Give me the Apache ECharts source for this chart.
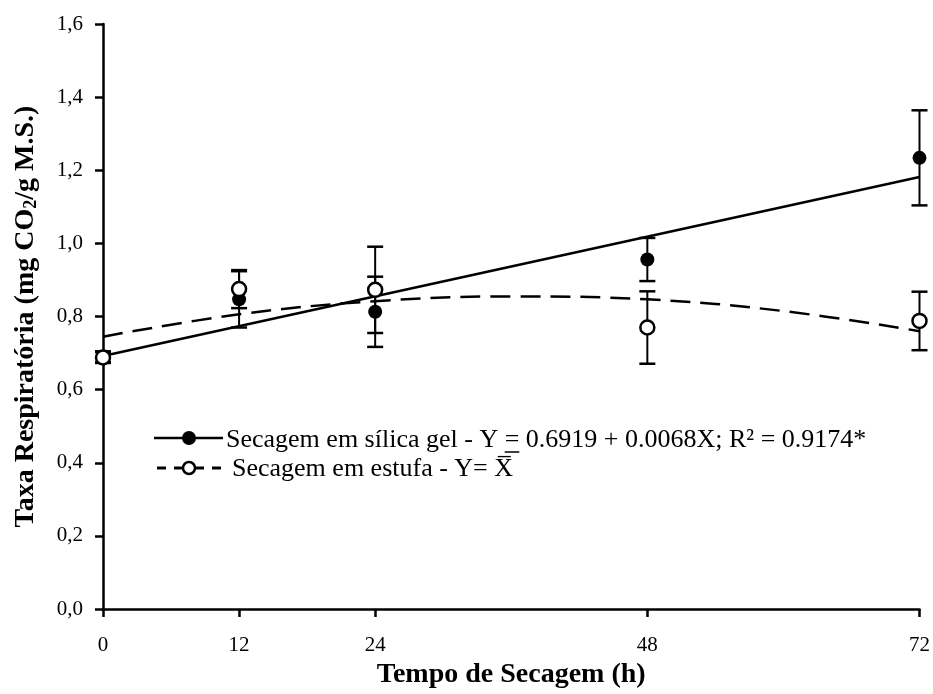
<!DOCTYPE html>
<html>
<head>
<meta charset="utf-8">
<script src="https://cdn.jsdelivr.net/npm/echarts@6/dist/echarts.min.js"></script>
<style>
  html, body { margin: 0; padding: 0; background: #fff; }
  #chart { width: 933px; height: 694px; }
</style>
</head>
<body>
<div id="chart"></div>
<script>
// Drying time (h)
const hours = [0, 12, 24, 48, 72];
const xTicks = [0, 12, 24, 48, 72];

// Respiration rate, silica gel drying (mean and error)
const silicaMean = [0.690, 0.847, 0.813, 0.956, 1.234];
const silicaErr = [0.015, 0.077, 0.096, 0.059, 0.130];

// Respiration rate, oven drying (mean and error)
const ovenMean = [0.688, 0.875, 0.873, 0.770, 0.788];
const ovenErr = [0.015, 0.052, 0.118, 0.099, 0.080];

// Linear fit for silica gel: Y = 0.6919 + 0.0068X
const fitHours = [0, 72];
const fitValues = [0.6919, 1.1815];

// Fitted trend for oven drying
const trendHours = [0, 12, 24, 36, 48, 60, 72];
const trendValues = [0.745, 0.806, 0.842, 0.855, 0.847, 0.815, 0.760];

const FONT = '"Liberation Serif", "Times New Roman", serif';
const LEGEND_FONT = '26px ' + FONT;

const zip = (xs, ys) => xs.map((x, i) => [x, ys[i]]);
const errData = (means, errs) => hours.map((h, i) => [h, means[i], errs[i]]);

function renderErrorBar(params, api) {
  const x = api.value(0), y = api.value(1), e = api.value(2);
  const top = api.coord([x, y + e]);
  const bot = api.coord([x, y - e]);
  const half = 8;
  const cap = { stroke: '#000', lineWidth: 2.5 };
  return {
    type: 'group',
    children: [
      { type: 'line', shape: { x1: top[0], y1: top[1], x2: bot[0], y2: bot[1] }, style: { stroke: '#000', lineWidth: 2 } },
      { type: 'line', shape: { x1: top[0] - half, y1: top[1], x2: top[0] + half, y2: top[1] }, style: cap },
      { type: 'line', shape: { x1: bot[0] - half, y1: bot[1], x2: bot[0] + half, y2: bot[1] }, style: cap }
    ]
  };
}

// text measurement for the legend's underlined "=" sign
const measureCtx = document.createElement('canvas').getContext('2d');
measureCtx.font = LEGEND_FONT;
const legendText1 = 'Secagem em sílica gel - Y = 0.6919 + 0.0068X; R² = 0.9174*';
const legendText2 = 'Secagem em estufa - Y= X\u0305';
const text1X = 226, text1Y = 440, text2X = 232, text2Y = 469;
const eqStart = text1X + measureCtx.measureText('Secagem em sílica gel - Y ').width;
const eqWidth = measureCtx.measureText('=').width;

const chart = echarts.init(document.getElementById('chart'), null, { renderer: 'canvas' });

const option = {
  animation: false,
  backgroundColor: '#fff',
  grid: { left: 103, right: 13, top: 24, bottom: 82, containLabel: false },
  xAxis: {
    type: 'value',
    min: 0,
    max: 72,
    interval: 12,
    name: 'Tempo de Secagem (h)',
    nameLocation: 'middle',
    nameGap: 50,
    nameTextStyle: { fontFamily: FONT, fontSize: 28, fontWeight: 'bold', color: '#000' },
    axisLine: { show: true, lineStyle: { color: '#000', width: 2.5 } },
    axisTick: { show: true, inside: false, length: 8, lineStyle: { color: '#000', width: 2.5 }, customValues: xTicks },
    axisLabel: { fontFamily: FONT, fontSize: 21, color: '#000', margin: 26, customValues: xTicks },
    splitLine: { show: false }
  },
  yAxis: {
    type: 'value',
    min: 0,
    max: 1.6,
    interval: 0.2,
    name: '{a|Taxa Respiratória (mg CO}{s|2}{a|/g M.S.)}',
    nameLocation: 'middle',
    nameGap: 63,
    nameRotate: 90,
    nameTextStyle: {
      rich: {
        a: { fontFamily: FONT, fontSize: 28, fontWeight: 'bold', color: '#000' },
        s: { fontFamily: FONT, fontSize: 18, fontWeight: 'bold', color: '#000', padding: [11, 0, 0, 0] }
      }
    },
    axisLine: { show: true, lineStyle: { color: '#000', width: 2.5 } },
    axisTick: { show: true, inside: false, length: 8, lineStyle: { color: '#000', width: 2.5 } },
    axisLabel: {
      fontFamily: FONT, fontSize: 21, color: '#000', margin: 20,
      formatter: v => v.toFixed(1).replace('.', ',')
    },
    splitLine: { show: false }
  },
  series: [
    {
      type: 'custom',
      name: 'err-silica',
      renderItem: renderErrorBar,
      data: errData(silicaMean, silicaErr),
      encode: { x: 0, y: 1 },
      z: 1
    },
    {
      type: 'custom',
      name: 'err-oven',
      renderItem: renderErrorBar,
      data: errData(ovenMean, ovenErr),
      encode: { x: 0, y: 1 },
      z: 1
    },
    {
      type: 'line',
      name: 'fit-silica',
      data: zip(fitHours, fitValues),
      showSymbol: false,
      symbol: 'none',
      lineStyle: { color: '#000', width: 2.5 },
      z: 2
    },
    {
      type: 'line',
      name: 'trend-oven',
      data: zip(trendHours, trendValues),
      smooth: 0.4,
      showSymbol: false,
      symbol: 'none',
      lineStyle: { color: '#000', width: 2.5, type: [20, 10] },
      z: 2
    },
    {
      type: 'scatter',
      name: 'Secagem em sílica gel',
      data: zip(hours, silicaMean),
      symbol: 'circle',
      symbolSize: 14,
      itemStyle: { color: '#000', opacity: 1 },
      z: 3
    },
    {
      type: 'scatter',
      name: 'Secagem em estufa',
      data: zip(hours, ovenMean),
      symbol: 'circle',
      symbolSize: 14,
      itemStyle: { color: '#fff', borderColor: '#000', borderWidth: 2.5, opacity: 1 },
      z: 4
    }
  ],
  graphic: [
    // legend entry: silica gel
    { type: 'line', shape: { x1: 154, y1: 438, x2: 223, y2: 438 }, style: { stroke: '#000', lineWidth: 2.5 }, z: 10 },
    { type: 'circle', shape: { cx: 189, cy: 438, r: 7 }, style: { fill: '#000' }, z: 11 },
    {
      type: 'text', x: text1X, y: text1Y, z: 11,
      style: { text: legendText1, font: LEGEND_FONT, fill: '#000', verticalAlign: 'middle' }
    },
    { type: 'line', shape: { x1: eqStart, y1: text1Y + 12, x2: eqStart + eqWidth, y2: text1Y + 12 }, style: { stroke: '#000', lineWidth: 1.5 }, z: 11 },
    // legend entry: oven
    { type: 'line', shape: { x1: 157, y1: 468, x2: 166, y2: 468 }, style: { stroke: '#000', lineWidth: 3 }, z: 10 },
    { type: 'line', shape: { x1: 174, y1: 468, x2: 183, y2: 468 }, style: { stroke: '#000', lineWidth: 3 }, z: 10 },
    { type: 'line', shape: { x1: 195, y1: 468, x2: 204, y2: 468 }, style: { stroke: '#000', lineWidth: 3 }, z: 10 },
    { type: 'line', shape: { x1: 212, y1: 468, x2: 221, y2: 468 }, style: { stroke: '#000', lineWidth: 3 }, z: 10 },
    { type: 'circle', shape: { cx: 189, cy: 468, r: 6 }, style: { fill: '#fff', stroke: '#000', lineWidth: 2.5 }, z: 11 },
    {
      type: 'text', x: text2X, y: text2Y, z: 11,
      style: { text: legendText2, font: LEGEND_FONT, fill: '#000', verticalAlign: 'middle' }
    }
  ]
};

chart.setOption(option);
</script>
</body>
</html>
